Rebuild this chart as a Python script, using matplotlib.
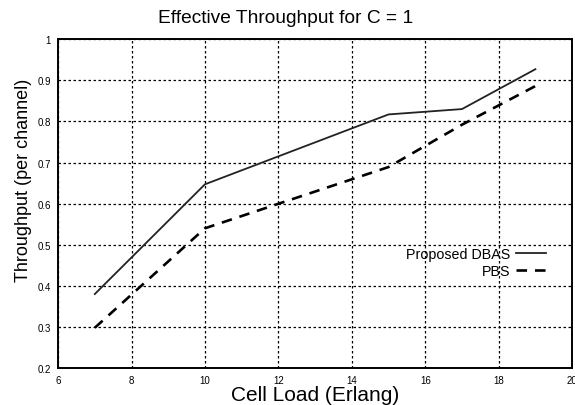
import numpy as np
import matplotlib.pyplot as plt

plt.rcParams['font.family'] = ['Liberation Sans', 'DejaVu Sans']

# Throughput per channel vs. offered cell load
load_dbas = [7, 10, 15, 17, 19]
thr_dbas = [0.38, 0.647, 0.817, 0.83, 0.927]
load_pbs = [7, 10, 15, 17, 19]
thr_pbs = [0.298, 0.54, 0.689, 0.792, 0.886]

x_ticks = [6, 8, 10, 12, 14, 16, 18, 20]
y_ticks = [0.2, 0.3, 0.4, 0.5, 0.6, 0.7, 0.8, 0.9, 1]
y_tick_labels = ["0.2", "0.3", "0.4", "0.5", "0.6", "0.7", "0.8", "0.9", "1"]

fig = plt.figure(figsize=(5.75, 4.06), dpi=100)
ax = fig.add_axes([0.101, 0.091, 0.894, 0.810])

ax.plot(load_dbas, thr_dbas, color="#222222", linewidth=1.3, linestyle="-",
        label="Proposed DBAS")
ax.plot(load_pbs, thr_pbs, color="black", linewidth=1.9, linestyle=(0, (4, 3)),
        label="PBS")

ax.set_xlim(6, 20)
ax.set_ylim(0.2, 1)
ax.set_xticks(x_ticks)
ax.set_yticks(y_ticks)
ax.set_yticklabels(y_tick_labels)
ax.tick_params(labelsize=7, length=0, pad=5)

ax.grid(True, color="black", linestyle=(0, (2, 2)), linewidth=0.9)
for s in ax.spines.values():
    s.set_linewidth(1.4)

fig.text(0.497, 0.955, "Effective Throughput for C = 1", fontsize=13.8,
         ha="center", va="center")
ax.set_xlabel("Cell Load (Erlang)", fontsize=15, labelpad=0)
ax.set_ylabel("Throughput (per channel)", fontsize=13)
ax.yaxis.set_label_coords(-0.05, 0.574)

ax.legend(loc="center right", bbox_to_anchor=(0.974, 0.32), frameon=False,
          markerfirst=False, fontsize=10.3, handlelength=2.1,
          handletextpad=0.4, labelspacing=0.2)

fig.savefig("out.png", dpi=100)
